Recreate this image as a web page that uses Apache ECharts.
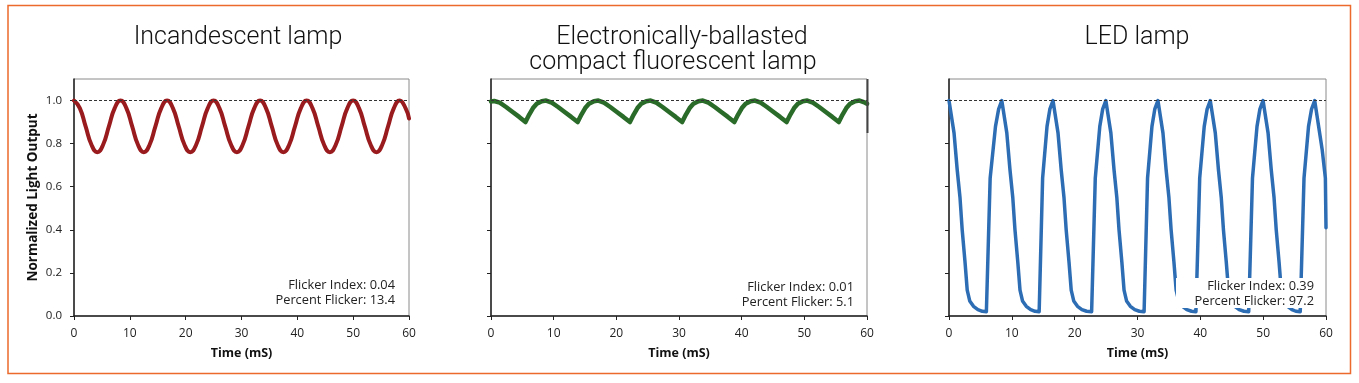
<!DOCTYPE html>
<html>
<head>
<meta charset="utf-8">
<script src="https://cdn.jsdelivr.net/npm/echarts@6/dist/echarts.min.js"></script>
<style>html,body{margin:0;padding:0;background:#fff;}#c{width:1359px;height:383px;}</style>
</head>
<body>
<div id="c"></div>
<script>
// ---------- data ----------
const titles = [["Incandescent lamp"], ["Electronically-ballasted", "compact fluorescent lamp"], ["LED lamp"]];
const flickerIndex = ["0.04", "0.01", "0.39"];
const percentFlicker = ["13.4", "5.1", "97.2"];
const xTicks = [0, 10, 20, 30, 40, 50, 60];
const yTicks = [0, 0.2, 0.4, 0.6, 0.8, 1.0];
const refLevel = 1.0;

// Incandescent lamp (time ms, normalized output)
const incT = [0,1.04,2.08,3.13,4.17,5.21,6.25,7.29,8.33,9.38,10.42,11.46,12.50,13.54,14.58,15.63,16.67,17.71,18.75,19.79,
  20.83,21.88,22.92,23.96,25.00,26.04,27.08,28.13,29.17,30.21,31.25,32.29,33.33,34.38,35.42,36.46,37.50,38.54,39.58,
  40.63,41.67,42.71,43.75,44.79,45.83,46.88,47.92,48.96,50.00,51.04,52.08,53.13,54.17,55.21,56.25,57.29,58.33,59.38,60.00];
const incY = [1.00,0.965,0.88,0.795,0.76,0.795,0.88,0.965,
  1.00,0.965,0.88,0.795,0.76,0.795,0.88,0.965,
  1.00,0.965,0.88,0.795,0.76,0.795,0.88,0.965,
  1.00,0.965,0.88,0.795,0.76,0.795,0.88,0.965,
  1.00,0.965,0.88,0.795,0.76,0.795,0.88,0.965,
  1.00,0.965,0.88,0.795,0.76,0.795,0.88,0.965,
  1.00,0.965,0.88,0.795,0.76,0.795,0.88,0.965,
  1.00,0.965,0.917];

// Electronically-ballasted CFL
const cflT = [0,0.5,1.4,2.4,3.4,4.5,
  5.50,6.10,6.70,7.30,8.10,8.80,9.70,10.70,11.70,12.80,
  13.83,14.43,15.03,15.63,16.43,17.13,18.03,19.03,20.03,21.13,
  22.17,22.77,23.37,23.97,24.77,25.47,26.37,27.37,28.37,29.47,
  30.50,31.10,31.70,32.30,33.10,33.80,34.70,35.70,36.70,37.80,
  38.83,39.43,40.03,40.63,41.43,42.13,43.03,44.03,45.03,46.13,
  47.17,47.77,48.37,48.97,49.77,50.47,51.37,52.37,53.37,54.47,
  55.50,56.10,56.70,57.30,58.10,58.80,59.70,60.00];
const cflY = [0.996,0.998,0.99,0.97,0.948,0.924,
  0.900,0.935,0.965,0.985,0.997,1.000,0.990,0.970,0.948,0.924,
  0.900,0.935,0.965,0.985,0.997,1.000,0.990,0.970,0.948,0.924,
  0.900,0.935,0.965,0.985,0.997,1.000,0.990,0.970,0.948,0.924,
  0.900,0.935,0.965,0.985,0.997,1.000,0.990,0.970,0.948,0.924,
  0.900,0.935,0.965,0.985,0.997,1.000,0.990,0.970,0.948,0.924,
  0.900,0.935,0.965,0.985,0.997,1.000,0.990,0.970,0.948,0.924,
  0.900,0.935,0.965,0.985,0.997,1.000,0.990,0.985];

// LED lamp
const ledT = [0.00,0.80,1.30,1.75,2.10,2.55,2.90,3.30,3.90,4.60,5.30,5.95,6.55,7.40,7.90,
  8.40,9.20,9.70,10.15,10.50,10.95,11.30,11.70,12.30,13.00,13.70,14.35,14.90,15.60,16.05,
  16.55,17.35,17.85,18.30,18.65,19.10,19.45,19.85,20.45,21.15,21.90,22.70,23.28,24.00,24.46,
  24.96,25.76,26.26,26.71,27.06,27.51,27.86,28.26,28.86,29.56,30.30,31.05,31.60,32.30,32.75,
  33.25,34.05,34.55,35.00,35.35,35.80,36.15,36.55,37.15,37.85,38.60,39.30,39.90,40.62,41.08,
  41.58,42.38,42.88,43.33,43.68,44.13,44.48,44.88,45.48,46.18,46.95,47.70,48.30,49.02,49.48,
  49.98,50.78,51.28,51.73,52.08,52.53,52.88,53.28,53.88,54.58,55.20,55.90,56.50,57.22,57.70,
  58.20,59.40,59.90,60.00];
const ledY = [1.00,0.85,0.68,0.55,0.40,0.25,0.12,0.07,0.045,0.03,0.022,0.02,0.64,0.88,0.96,
  1.00,0.85,0.68,0.55,0.40,0.25,0.12,0.07,0.045,0.03,0.022,0.02,0.64,0.88,0.96,
  1.00,0.85,0.68,0.55,0.40,0.25,0.12,0.07,0.045,0.03,0.022,0.02,0.64,0.88,0.96,
  1.00,0.85,0.68,0.55,0.40,0.25,0.12,0.07,0.045,0.03,0.022,0.02,0.64,0.88,0.96,
  1.00,0.85,0.68,0.55,0.40,0.25,0.12,0.07,0.045,0.03,0.022,0.02,0.64,0.88,0.96,
  1.00,0.85,0.68,0.55,0.40,0.25,0.12,0.07,0.045,0.03,0.022,0.02,0.64,0.88,0.96,
  1.00,0.85,0.68,0.55,0.40,0.25,0.12,0.07,0.045,0.03,0.022,0.02,0.64,0.88,0.96,
  1.00,0.77,0.64,0.41];

// ---------- chart ----------
const chart = echarts.init(document.getElementById('c'), null, {renderer: 'canvas'});
const grids = [
  {left: 74, top: 79, width: 335, height: 237},
  {left: 491, top: 79, width: 376, height: 237},
  {left: 949, top: 79, width: 377, height: 237}
];
const colors = ['#9a1b1d', '#2a6b2a', '#2d6db4'];
const widths = [4, 4.5, 3.5];
const seriesData = [
  incT.map((t, i) => [t, incY[i]]),
  cflT.map((t, i) => [t, cflY[i]]),
  ledT.map((t, i) => [t, ledY[i]])
];
const smooths = [0.5, false, false];
const tickFont = 'Open Sans';

const option = {
  backgroundColor: '#fff',
  animation: false,
  grid: grids.map(g => Object.assign({show: true, borderColor: '#8a8a8a', borderWidth: 1, backgroundColor: 'transparent'}, g)),
  xAxis: grids.map((g, i) => ({
    gridIndex: i, type: 'value', min: 0, max: 60, interval: 10,
    name: 'Time (mS)', nameLocation: 'middle', nameGap: 31,
    nameTextStyle: {fontFamily: tickFont, fontWeight: 'bold', fontSize: 12.5, color: '#111'},
    axisLine: {show: true, lineStyle: {color: '#222', width: 1.5}},
    axisTick: {show: true, inside: false, length: 4, lineStyle: {color: '#222', width: 1}},
    axisLabel: {show: true, margin: 12, fontFamily: tickFont, fontSize: 12, color: '#222',
      customValues: xTicks},
    splitLine: {show: false}
  })),
  yAxis: grids.map((g, i) => ({
    gridIndex: i, type: 'value', min: 0, max: 1.1,
    name: i === 0 ? 'Normalized Light Output' : '', nameLocation: 'middle', nameGap: 34,
    nameRotate: 90,
    nameTextStyle: {fontFamily: tickFont, fontWeight: 'bold', fontSize: 13.5, color: '#111'},
    axisLine: {show: true, lineStyle: {color: '#222', width: 1.5}},
    axisTick: {show: true, inside: false, length: 4, lineStyle: {color: '#222', width: 1}, customValues: yTicks},
    axisLabel: {show: i === 0, margin: 12, fontFamily: tickFont, fontSize: 11.5, color: '#222',
      customValues: yTicks, formatter: v => v.toFixed(1)},
    splitLine: {show: false}
  })),
  series: seriesData.map((d, i) => ({
    type: 'line', xAxisIndex: i, yAxisIndex: i, data: d, showSymbol: false, symbol: 'none',
    smooth: smooths[i], clip: true,
    lineStyle: {color: colors[i], width: widths[i], join: 'round', cap: 'round'},
    markLine: {silent: true, symbol: 'none', label: {show: false},
      lineStyle: {color: '#333', width: 1, type: [3, 2]},
      data: [{yAxis: refLevel}]},
    z: 2
  })),
  graphic: []
};

const G = option.graphic;
// outer orange frame
G.push({type: 'rect', shape: {x: 8, y: 5.5, width: 1342.5, height: 368}, style: {fill: 'none', stroke: '#ec6a2c', lineWidth: 1.5}, z: 0, silent: true});
// titles
const titleFont = '300 25px Roboto, "Liberation Sans", sans-serif';
const titlePos = [[[238, 38]], [[682, 38], [673, 63]], [[1137, 38]]];
titles.forEach((lines, i) => lines.forEach((ln, j) => {
  G.push({type: 'text', x: titlePos[i][j][0], y: titlePos[i][j][1], z: 50,
    style: {text: ln, font: titleFont, fill: '#111', align: 'center', verticalAlign: 'middle'}});
}));
// LED annotation white box (hides the line under the text)
G.push({type: 'rect', shape: {x: 1176, y: 278, width: 147, height: 30}, style: {fill: '#fff'}, z: 60, silent: true});
// annotations
const annPos = [[395, 285], [854, 287], [1314, 286]];
const annFont = '12.8px "Open Sans", sans-serif';
annPos.forEach((p, i) => {
  G.push({type: 'text', x: p[0], y: p[1], z: 70,
    style: {text: 'Flicker Index: ' + flickerIndex[i], font: annFont, fill: '#222', align: 'right', verticalAlign: 'middle'}});
  G.push({type: 'text', x: p[0], y: p[1] + 15, z: 70,
    style: {text: 'Percent Flicker: ' + percentFlicker[i], font: annFont, fill: '#222', align: 'right', verticalAlign: 'middle'}});
});
// dark segment on right spine of the CFL panel
G.push({type: 'line', shape: {x1: 867.5, y1: 79, x2: 867.5, y2: 133}, style: {stroke: '#444', lineWidth: 2}, z: 40, silent: true});

chart.setOption(option);
</script>
</body>
</html>
